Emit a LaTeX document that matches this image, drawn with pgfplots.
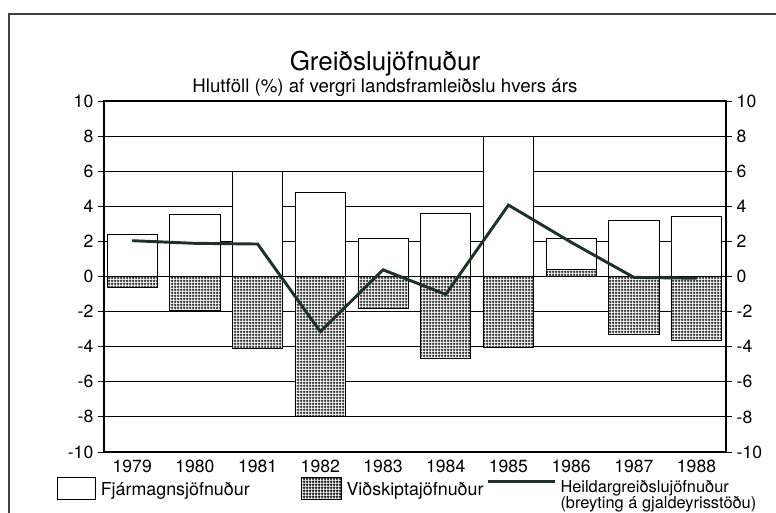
\documentclass[border=0pt]{standalone}
\usepackage{pgfplots}
\pgfplotsset{compat=1.18}
\usetikzlibrary{patterns.meta}
\usepackage{fontspec}
\setmainfont{TeX Gyre Heros}
\definecolor{linegreen}{HTML}{1C3326}
\tikzdeclarepattern{
  name=finegrid,
  type=uncolored,
  bounding box={(0pt,0pt) and (2.25pt,2.25pt)},
  tile size={(2.25pt,2.25pt)},
  code={
    \pgfsetlinewidth{0.8pt}
    \pgfpathmoveto{\pgfpoint{0pt}{1.125pt}}\pgfpathlineto{\pgfpoint{2.25pt}{1.125pt}}
    \pgfpathmoveto{\pgfpoint{1.125pt}{0pt}}\pgfpathlineto{\pgfpoint{1.125pt}{2.25pt}}
    \pgfusepath{stroke}
  }
}
\begin{document}
\begin{tikzpicture}
\path[use as bounding box] (0pt,0pt) rectangle (582pt,384.75pt);
\draw[line width=1.2pt, black!75] (6.75pt,-5pt)--(6.75pt,374.25pt)--(590pt,374.25pt);
\node[font=\fontsize{19.5}{22}\selectfont] at (288.75pt,337pt) {Greiðslujöfnuður};
\node[font=\fontsize{14}{16}\selectfont] at (288.75pt,319pt) {Hlutföll (\%) af vergri landsframleiðslu hvers árs};
\begin{axis}[
  at={(78pt,45.75pt)}, anchor=south west,
  scale only axis, width=466.5pt, height=263.25pt,
  xmin=-0.45, xmax=9.47, ymin=-10, ymax=10,
  ytick={-10,-8,...,10},
  ymajorgrids, grid style={black, line width=0.6pt},
  axis line style={black, line width=0.8pt},
  ytick pos=both, tick align=outside, major tick length=4.5pt,
  tick style={black, line width=0.6pt},
  yticklabel style={font=\fontsize{13.2}{15}\selectfont},
  xtick={0,...,9}, xticklabels={1979,1980,1981,1982,1983,1984,1985,1986,1987,1988},
  xtick style={draw=none},
  xticklabel style={font=\fontsize{13.2}{15}\selectfont, yshift=2pt},
  /pgf/number format/assume math mode=true,
  ybar, bar width=0.8, bar shift=0pt,
  legend style={at={(axis description cs:-0.0756,-0.0705)}, anchor=north west,
    draw=none, fill=none, legend columns=3,
    font=\fontsize{13.4}{15}\selectfont,
    inner sep=0pt, outer sep=0pt, column sep=0pt, row sep=0pt,
    nodes={inner sep=0pt, outer sep=0pt},
    /tikz/every even column/.append style={column sep=0pt},
    /tikz/every odd column/.append style={column sep=0pt}},
  legend cell align=left,
]
\addplot[draw=black, line width=0.6pt, fill=white,
  legend image code/.code={\draw[black, line width=0.6pt, fill=white] (0pt,-7.25pt) rectangle (28.5pt,9.25pt); \path (32.25pt,0pt);}]
  coordinates {(0,2.42) (1,3.52) (2,6.0) (3,4.8) (4,2.17) (5,3.61) (6,8.0) (7,2.18) (8,3.22) (9,3.45)};
\addlegendentry{\makebox[150pt][l]{Fjármagnsjöfnuður}}
\addplot[draw=black, line width=0.6pt, fill=white, postaction={pattern=finegrid, pattern color=black!85},
  legend image code/.code={\draw[black, line width=0.6pt, fill=white, postaction={pattern=finegrid, pattern color=black!85}] (0pt,-7.25pt) rectangle (30pt,9.25pt); \path (33.75pt,0pt);}]
  coordinates {(0,-0.63) (1,-1.96) (2,-4.08) (3,-7.95) (4,-1.81) (5,-4.65) (6,-4.04) (7,0.38) (8,-3.31) (9,-3.64)};
\addlegendentry{\makebox[105pt][l]{Viðskiptajöfnuður}}
\addplot[sharp plot, draw=linegreen, line width=2.2pt, mark=none,
  legend image code/.code={\draw[linegreen, line width=2.2pt] (0pt,6.25pt) -- (50.25pt,6.25pt); \path (53.25pt,0pt);}]
  coordinates {(0,2.04) (1,1.89) (2,1.85) (3,-3.14) (4,0.38) (5,-1.02) (6,4.07) (7,1.95) (8,-0.05) (9,-0.1)};
\addlegendentry{\raisebox{3.75pt}{\fontsize{12.3}{11.6}\selectfont\begin{tabular}[t]{@{}l@{}}Heildargreiðslujöfnuður\\(breyting á gjaldeyrisstöðu)\end{tabular}}}
\end{axis}
\begin{axis}[
  at={(78pt,45.75pt)}, anchor=south west,
  scale only axis, width=466.5pt, height=263.25pt,
  xmin=-0.45, xmax=9.47, ymin=-10, ymax=10,
  ytick={-10,-8,...,10},
  axis x line=none, axis y line*=right,
  axis line style={black, line width=0.8pt, -},
  tick align=outside, major tick length=4.5pt,
  tick style={black, line width=0.6pt},
  yticklabel style={font=\fontsize{13.2}{15}\selectfont},
  /pgf/number format/assume math mode=true,
]
\end{axis}
\end{tikzpicture}
\end{document}
